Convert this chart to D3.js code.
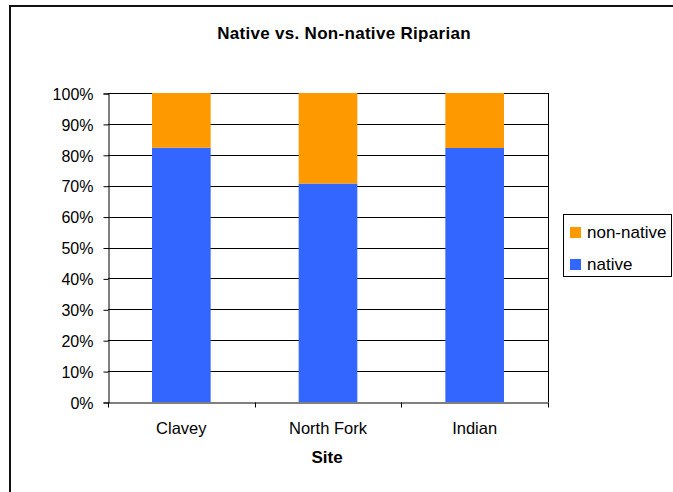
<!DOCTYPE html>
<html>
<head>
<meta charset="utf-8">
<script src="https://cdn.jsdelivr.net/npm/d3@7"></script>
<style>
  body { margin: 0; background: #fff; }
  text { font-family: "Liberation Sans", Arial, sans-serif; fill: #000; }
</style>
</head>
<body>
<div id="chart"></div>
<script>
// data
var sites = ["Clavey", "North Fork", "Indian"];
var nativePct = [82.3, 70.7, 82.2];
var nonNativePct = [17.7, 29.3, 17.8];
var yTicks = [0, 10, 20, 30, 40, 50, 60, 70, 80, 90, 100];
var seriesNames = ["non-native", "native"];
var seriesColors = { "native": "#3366ff", "non-native": "#ff9900" };

var width = 673, height = 492;
var margin = { top: 93, right: 125, bottom: 90, left: 108 };

var svg = d3.select("#chart").append("svg")
    .attr("width", width)
    .attr("height", height);

// outer frame (right and bottom edges fall outside the picture)
svg.append("rect")
    .attr("x", 10).attr("y", 6)
    .attr("width", 680).attr("height", 500)
    .attr("fill", "none").attr("stroke", "#111").attr("stroke-width", 2);

var x = d3.scaleBand()
    .domain(sites)
    .range([margin.left, width - margin.right])
    .paddingInner(0.6)
    .paddingOuter(0.3);

var xOuter = d3.scaleBand()
    .domain(sites)
    .range([margin.left, width - margin.right]);

var y = d3.scaleLinear()
    .domain([0, 100])
    .range([height - margin.bottom, margin.top]);

var stackData = sites.map(function (s, i) {
    return { site: s, "native": nativePct[i], "non-native": nonNativePct[i] };
});
var stack = d3.stack().keys(["native", "non-native"]);
var layers = stack(stackData);

var g = svg.append("g");

// gridlines
g.selectAll("line.grid")
    .data(yTicks.slice(1))
    .enter().append("line")
    .attr("class", "grid")
    .attr("x1", margin.left).attr("x2", width - margin.right)
    .attr("y1", function (d) { return Math.round(y(d)) + 0.5; })
    .attr("y2", function (d) { return Math.round(y(d)) + 0.5; })
    .attr("stroke", "#000");

// bars
g.selectAll("g.layer")
    .data(layers)
    .enter().append("g")
    .attr("class", "layer")
    .attr("fill", function (d) { return seriesColors[d.key]; })
    .selectAll("rect")
    .data(function (d) { return d; })
    .enter().append("rect")
    .attr("x", function (d) { return x(d.data.site); })
    .attr("width", x.bandwidth())
    .attr("y", function (d) { return y(d[1]); })
    .attr("height", function (d) { return y(d[0]) - y(d[1]); });

// plot area right border
g.append("line")
    .attr("x1", width - margin.right + 0.5).attr("x2", width - margin.right + 0.5)
    .attr("y1", margin.top).attr("y2", height - margin.bottom)
    .attr("stroke", "#000");

// y axis
var yAxis = d3.axisLeft(y)
    .tickValues(yTicks)
    .tickSize(5)
    .tickFormat(function (d) { return d + "%"; });
var yg = svg.append("g")
    .attr("transform", "translate(" + (margin.left + 0.5) + ",0.5)")
    .call(yAxis);
yg.selectAll("text").attr("font-size", "16px").attr("x", -15).attr("dy", "0.36em");

// x axis
var xAxis = d3.axisBottom(xOuter).tickSize(0).tickSizeOuter(0);
var xg = svg.append("g")
    .attr("transform", "translate(0," + (height - margin.bottom + 0.5) + ")")
    .call(xAxis);
xg.selectAll("text").attr("font-size", "16.5px").attr("y", 31).attr("dy", 0);
var bounds = [margin.left].concat(sites.map(function (s) { return xOuter(s) + xOuter.bandwidth(); }));
xg.selectAll("line.sep")
    .data(bounds)
    .enter().append("line")
    .attr("class", "sep")
    .attr("x1", function (d) { return Math.round(d) + 0.5; })
    .attr("x2", function (d) { return Math.round(d) + 0.5; })
    .attr("y1", 0).attr("y2", 5)
    .attr("stroke", "#000");
svg.selectAll(".domain").attr("stroke", "#000");

// title and axis title
svg.append("text")
    .attr("x", 344).attr("y", 39)
    .attr("text-anchor", "middle")
    .attr("font-size", "17px").attr("font-weight", "bold")
    .attr("letter-spacing", "0.3px")
    .text("Native vs. Non-native Riparian");

svg.append("text")
    .attr("x", 327).attr("y", 463)
    .attr("text-anchor", "middle")
    .attr("font-size", "17px").attr("font-weight", "bold")
    .text("Site");

// legend
var legend = svg.append("g").attr("transform", "translate(563,214)");
legend.append("rect")
    .attr("x", 0.5).attr("y", 0.5)
    .attr("width", 108).attr("height", 62)
    .attr("fill", "#fff").attr("stroke", "#000");
var items = legend.selectAll("g.item")
    .data(seriesNames)
    .enter().append("g")
    .attr("class", "item")
    .attr("transform", function (d, i) { return "translate(7," + (13 + i * 32) + ")"; });
items.append("rect")
    .attr("width", 11).attr("height", 11)
    .attr("fill", function (d) { return seriesColors[d]; });
items.append("text")
    .attr("x", 17).attr("y", 11)
    .attr("font-size", "17px")
    .text(function (d) { return d; });
</script>
</body>
</html>
